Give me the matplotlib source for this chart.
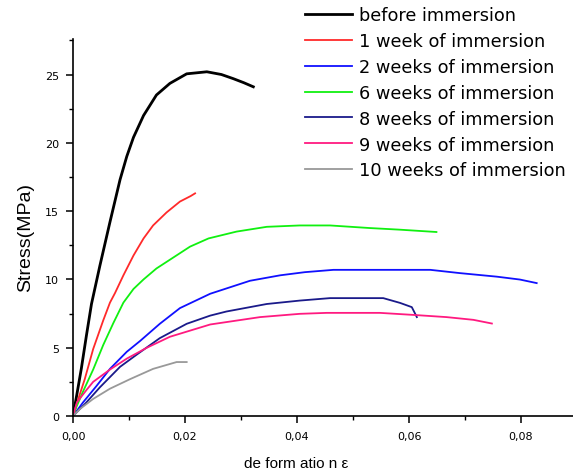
import matplotlib
matplotlib.use('Agg')
import matplotlib.pyplot as plt
from matplotlib.ticker import MultipleLocator, FuncFormatter

plt.rcParams['font.family'] = ['DejaVu Sans']

# values (strain, stress in MPa)
before_x = [0.0, 0.0007, 0.0015, 0.0024, 0.0033, 0.0048, 0.0066, 0.0084, 0.0096, 0.0108, 0.0126, 0.0149, 0.0173, 0.0203, 0.0239, 0.0265, 0.0286, 0.0305, 0.0322]
before_y = [0.0, 1.6, 3.5, 5.9, 8.2, 11.0, 14.2, 17.3, 19.0, 20.4, 22.0, 23.5, 24.35, 25.05, 25.2, 25.0, 24.7, 24.4, 24.1]

w1_x = [0.0, 0.00095, 0.0021, 0.0036, 0.0054, 0.0066, 0.0075, 0.0090, 0.0108, 0.0126, 0.0143, 0.0167, 0.0191, 0.0210, 0.0218]
w1_y = [0.0, 1.25, 2.7, 4.9, 7.0, 8.3, 9.0, 10.3, 11.75, 13.0, 13.95, 14.9, 15.7, 16.1, 16.3]

w2_x = [0.0, 0.0018, 0.0042, 0.0066, 0.0096, 0.0120, 0.0155, 0.0191, 0.0245, 0.0316, 0.0370, 0.0414, 0.0465, 0.0548, 0.0638, 0.0691, 0.0757, 0.0798, 0.0828]
w2_y = [0.0, 1.0, 2.2, 3.45, 4.7, 5.5, 6.75, 7.9, 8.95, 9.9, 10.3, 10.53, 10.7, 10.7, 10.7, 10.46, 10.2, 9.99, 9.73]

w6_x = [0.0, 0.00065, 0.0018, 0.0036, 0.0054, 0.0072, 0.0090, 0.0108, 0.0126, 0.0149, 0.0179, 0.0209, 0.0242, 0.0292, 0.0346, 0.0405, 0.0459, 0.0530, 0.0584, 0.0649]
w6_y = [0.0, 0.7, 1.8, 3.4, 5.2, 6.8, 8.3, 9.3, 10.0, 10.8, 11.6, 12.4, 13.0, 13.5, 13.85, 13.95, 13.95, 13.76, 13.64, 13.47]

w8_x = [0.0, 0.0024, 0.0048, 0.0084, 0.0114, 0.0155, 0.0203, 0.0245, 0.0274, 0.0346, 0.0405, 0.0459, 0.0554, 0.0584, 0.0605, 0.0614]
w8_y = [0.0, 1.0, 2.1, 3.6, 4.5, 5.7, 6.75, 7.35, 7.65, 8.2, 8.45, 8.63, 8.63, 8.28, 7.97, 7.24]

w9_x = [0.0, 0.0007, 0.0024, 0.0036, 0.0066, 0.0096, 0.0132, 0.0173, 0.0245, 0.0334, 0.0405, 0.0453, 0.0548, 0.0608, 0.0667, 0.0715, 0.0748]
w9_y = [0.0, 1.0, 1.9, 2.5, 3.4, 4.2, 5.0, 5.8, 6.7, 7.24, 7.48, 7.55, 7.55, 7.4, 7.24, 7.04, 6.77]

w10_x = [0.0, 0.0012, 0.0036, 0.0066, 0.0102, 0.0143, 0.0185, 0.0203]
w10_y = [0.0, 0.5, 1.25, 2.0, 2.7, 3.45, 3.95, 3.95]

series = [
    (before_x, before_y, '#000000', 2.0, 'before immersion'),
    (w1_x, w1_y, '#ff2a2a', 1.3, '1 week of immersion'),
    (w2_x, w2_y, '#1010ff', 1.3, '2 weeks of immersion'),
    (w6_x, w6_y, '#10f010', 1.3, '6 weeks of immersion'),
    (w8_x, w8_y, '#1a1a8a', 1.3, '8 weeks of immersion'),
    (w9_x, w9_y, '#ff1a80', 1.3, '9 weeks of immersion'),
    (w10_x, w10_y, '#999999', 1.3, '10 weeks of immersion'),
]

fig = plt.figure(figsize=(5.73, 4.77), dpi=100)
ax = fig.add_axes([73 / 573, 1 - 417 / 477, 504 / 573, 377 / 477])

for x, y, c, lw, lab in series:
    ax.plot(x, y, color=c, lw=lw, label=lab)

ax.set_xlim(0, 0.09)
ax.set_ylim(0, 27.6)
ax.spines['top'].set_visible(False)
ax.spines['right'].set_visible(False)
ax.spines['left'].set_linewidth(1.2)
ax.spines['bottom'].set_linewidth(1.2)

ax.xaxis.set_major_locator(MultipleLocator(0.02))
ax.xaxis.set_minor_locator(MultipleLocator(0.01))
ax.yaxis.set_major_locator(MultipleLocator(5))
ax.yaxis.set_minor_locator(MultipleLocator(2.5))
ax.xaxis.set_major_formatter(FuncFormatter(lambda v, p: ('%.2f' % v).replace('.', ',')))
ax.tick_params(which='major', direction='out', length=5, width=1.1, labelsize=8, colors='black')
ax.tick_params(which='minor', direction='out', length=3, width=1.0)
ax.tick_params(axis='x', pad=6)
ax.tick_params(axis='y', pad=5)

ax.set_ylabel('Stress(MPa)', fontsize=14, family='Liberation Sans')
ax.yaxis.set_label_coords(-0.077, 0.475)
ax.set_xlabel('de form atio n ε', fontsize=11, family='Liberation Sans')
ax.xaxis.set_label_coords(0.442, -0.105)

fig.legend(loc='upper left', bbox_to_anchor=(305 / 573, 1 - 7 / 477), frameon=False,
           prop={'family': 'DejaVu Sans', 'size': 12.8}, handlelength=2.65, handletextpad=0.4,
           labelspacing=0.445, borderaxespad=0, borderpad=0)

fig.savefig('out.png', dpi=100)
